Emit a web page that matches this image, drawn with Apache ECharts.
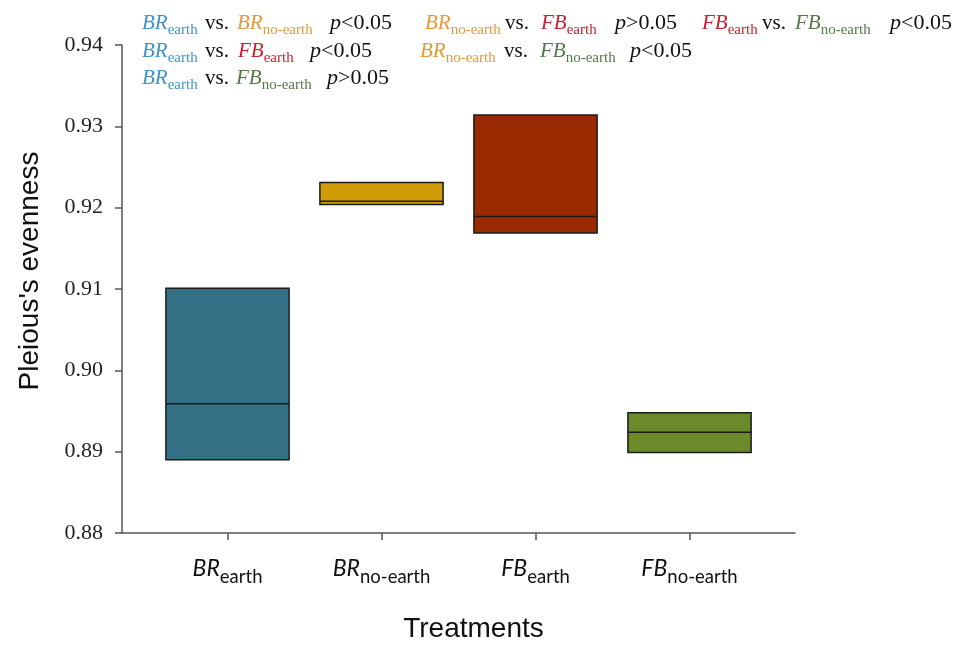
<!DOCTYPE html>
<html><head><meta charset="utf-8">
<script src="https://cdn.jsdelivr.net/npm/echarts@6/dist/echarts.min.js"></script>
<style>html,body{margin:0;padding:0;background:#fff}#c{width:967px;height:650px}</style>
</head><body><div id="c"></div>
<script>
// ---- data ----
const categories = ['BR_earth', 'BR_no-earth', 'FB_earth', 'FB_no-earth'];
const catMain = ['BR', 'BR', 'FB', 'FB'];
const catSub = ['earth', 'no-earth', 'earth', 'no-earth'];
const catPos = [1, 2, 3, 4];
const q1Values = [0.8890, 0.9204, 0.9169, 0.8899];
const medianValues = [0.8959, 0.9208, 0.9189, 0.8924];
const q3Values = [0.9101, 0.9231, 0.9314, 0.8948];
const yMin = 0.88, yMax = 0.94, yStep = 0.01;
// comparisons: [treatment A index, treatment B index, p-value text]
const comparisons = [
  [0, 1, '<0.05'], [1, 2, '>0.05'], [2, 3, '<0.05'],
  [0, 2, '<0.05'], [1, 3, '<0.05'],
  [0, 3, '>0.05']
];
// ---- layout / style ----
const boxColors = ['#347187', '#cf9b06', '#9a2a00', '#6b8a2c'];
const textColors = ['#3f93c8', '#e39a3a', '#c9202f', '#56784a'];
// per comparison: line top y, x of A, x of "vs.", x of B, x of p
const compLayout = [
  [11, 142, 205, 237, 330], [11, 425, 505, 541, 615], [11, 702, 762, 795, 890],
  [39, 142, 205, 238, 310], [39, 420, 504, 540, 630],
  [66, 142, 205, 236, 327]
];

const serif = 'Liberation Serif';
const annRich = {
  m: {fontFamily: serif, fontStyle: 'italic', fontSize: 21, lineHeight: 24, verticalAlign: 'middle'},
  s: {fontFamily: serif, fontSize: 15, height: 9, lineHeight: 24, verticalAlign: 'bottom'},
  v: {fontFamily: serif, fontSize: 21, lineHeight: 24, verticalAlign: 'middle', fill: '#111'},
  p: {fontFamily: serif, fontStyle: 'italic', fontSize: 22, lineHeight: 24, verticalAlign: 'middle', fill: '#111'},
  q: {fontFamily: serif, fontSize: 22, lineHeight: 24, verticalAlign: 'middle', fill: '#111'}
};
function treatText(i, x, y) {
  return {type: 'text', x: x, y: y, silent: true,
    style: {text: '{m|' + catMain[i] + '}{s|' + catSub[i] + '}', fill: textColors[i],
      rich: annRich, verticalAlign: 'top', align: 'left'}};
}
const graphics = [];
comparisons.forEach(function (c, k) {
  const L = compLayout[k];
  graphics.push(treatText(c[0], L[1], L[0]));
  graphics.push({type: 'text', x: L[2], y: L[0], silent: true,
    style: {text: '{v|vs.}', rich: annRich, verticalAlign: 'top', align: 'left'}});
  graphics.push(treatText(c[1], L[3], L[0]));
  graphics.push({type: 'text', x: L[4], y: L[0], silent: true,
    style: {text: '{p|p}{q|' + c[2] + '}', rich: annRich, verticalAlign: 'top', align: 'left'}});
});

const boxData = categories.map(function (c, i) {
  return [catPos[i], q1Values[i], medianValues[i], q3Values[i]];
});

const chart = echarts.init(document.getElementById('c'));
chart.setOption({
  animation: false,
  backgroundColor: '#fff',
  grid: {left: 122, right: 172, top: 45, bottom: 117},
  xAxis: {
    type: 'value', min: 0.315, max: 4.685,
    name: 'Treatments', nameLocation: 'middle', nameGap: 82,
    nameTextStyle: {fontFamily: 'Liberation Sans', fontSize: 28, color: '#111', padding: [0, 0, 0, 30]},
    axisLine: {show: true, lineStyle: {color: '#555', width: 1.5}},
    axisTick: {show: true, length: 7, customValues: catPos, lineStyle: {color: '#555', width: 1.5}},
    splitLine: {show: false},
    axisLabel: {
      customValues: catPos, margin: 23, color: '#111',
      formatter: function (v) {
        const i = Math.round(v) - 1;
        return '{m|' + catMain[i] + '}{s|' + catSub[i] + '}';
      },
      rich: {
        m: {fontFamily: 'Lato', fontStyle: 'italic', fontSize: 23, lineHeight: 26, verticalAlign: 'middle', color: '#111'},
        s: {fontFamily: 'Lato', fontSize: 18.5, height: 9, lineHeight: 26, verticalAlign: 'bottom', color: '#111'}
      }
    }
  },
  yAxis: {
    type: 'value', min: yMin, max: yMax, interval: yStep,
    name: "Pleious's evenness", nameLocation: 'middle', nameGap: 78,
    nameTextStyle: {fontFamily: 'Liberation Sans', fontSize: 28, color: '#111', padding: [0, 0, 0, 36]},
    axisLine: {show: true, lineStyle: {color: '#555', width: 1.5}},
    axisTick: {show: true, length: 7, lineStyle: {color: '#555', width: 1.5}},
    splitLine: {show: false},
    axisLabel: {fontFamily: serif, fontSize: 22, color: '#222', margin: 19,
      formatter: function (v) { return v.toFixed(2); }}
  },
  series: [{
    type: 'custom',
    data: boxData,
    encode: {x: 0, y: [1, 2, 3]},
    renderItem: function (params, api) {
      const x = api.value(0), lo = api.value(1), med = api.value(2), hi = api.value(3);
      const half = 0.4;
      const pTL = api.coord([x - half, hi]);
      const pBR = api.coord([x + half, lo]);
      const m1 = api.coord([x - half, med]);
      const m2 = api.coord([x + half, med]);
      return {type: 'group', children: [
        {type: 'rect', shape: {x: pTL[0], y: pTL[1], width: pBR[0] - pTL[0], height: pBR[1] - pTL[1]},
          style: {fill: boxColors[params.dataIndex], stroke: '#1c1c1c', lineWidth: 1.5}},
        {type: 'line', shape: {x1: m1[0], y1: m1[1], x2: m2[0], y2: m2[1]},
          style: {stroke: '#1a1a1a', lineWidth: 1.5}}
      ]};
    }
  }],
  graphic: graphics
});
</script>
</body></html>
